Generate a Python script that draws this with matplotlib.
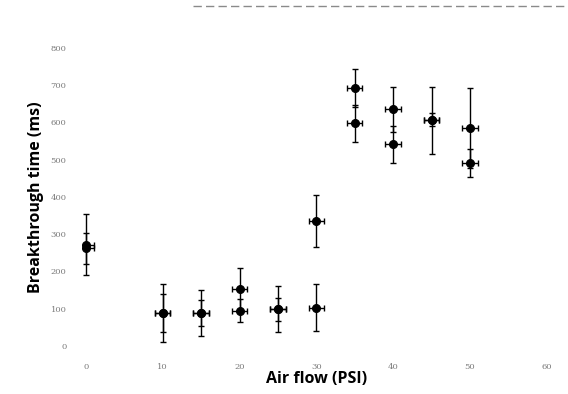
import matplotlib
matplotlib.use("Agg")
import matplotlib.pyplot as plt
from matplotlib.lines import Line2D
import numpy as np

# Data
air_flow = [0, 10, 15, 20, 25, 30, 35, 40, 45, 50]
time_a = [272, 88, 89, 153, 99, 335, 692, 635, 605, 585]
err_a = [82, 78, 62, 56, 61, 70, 50, 60, 89, 107]
time_b = [262, 88, 89, 95, 98, 103, 597, 541, 607, 491]
err_b = [42, 51, 34, 31, 32, 63, 50, 50, 17, 38]
xerr_lo = [0, 1, 1, 1, 1, 1, 1, 1, 1, 1]
xerr_hi = [1, 1, 1, 1, 1, 1, 1, 1, 1, 1]

x_ticks = [0, 10, 20, 30, 40, 50, 60]
y_ticks = [0, 100, 200, 300, 400, 500, 600, 700, 800]

fig = plt.figure(figsize=(5.68, 3.94), dpi=100)
ax = fig.add_axes([0.1514, 0.1218, 0.8111, 0.7572])

for ys, es in ((time_a, err_a), (time_b, err_b)):
    ax.errorbar(air_flow, ys, yerr=es, xerr=[xerr_lo, xerr_hi], fmt='o',
                color='black', ecolor='black', markersize=5.5, elinewidth=1.0,
                capsize=2, capthick=1.0, clip_on=False)

ax.set_xlim(0, 60)
ax.set_ylim(0, 800)
ax.set_xticks(x_ticks)
ax.set_yticks(y_ticks)
for s in ax.spines.values():
    s.set_visible(False)
ax.tick_params(length=0, labelsize=6, labelcolor='#7a7a7a')
for lab in ax.get_xticklabels() + ax.get_yticklabels():
    lab.set_family('DejaVu Serif')
ax.tick_params(axis='x', pad=12)
ax.tick_params(axis='y', pad=14)

ax.set_xlabel('Air flow (PSI)', fontsize=11.5, fontweight='bold', family='Open Sans', labelpad=0)
ax.set_ylabel('Breakthrough time (ms)', fontsize=11.5, fontweight='bold', family='Open Sans', labelpad=5)

# faint scan artifact line at the top
fig.add_artist(Line2D([0.34, 1.0], [1 - 6 / 394, 1 - 6 / 394], transform=fig.transFigure,
                      color='#8a8a8a', lw=1, ls=(0, (6, 3))))

fig.savefig('out.png', dpi=100)
